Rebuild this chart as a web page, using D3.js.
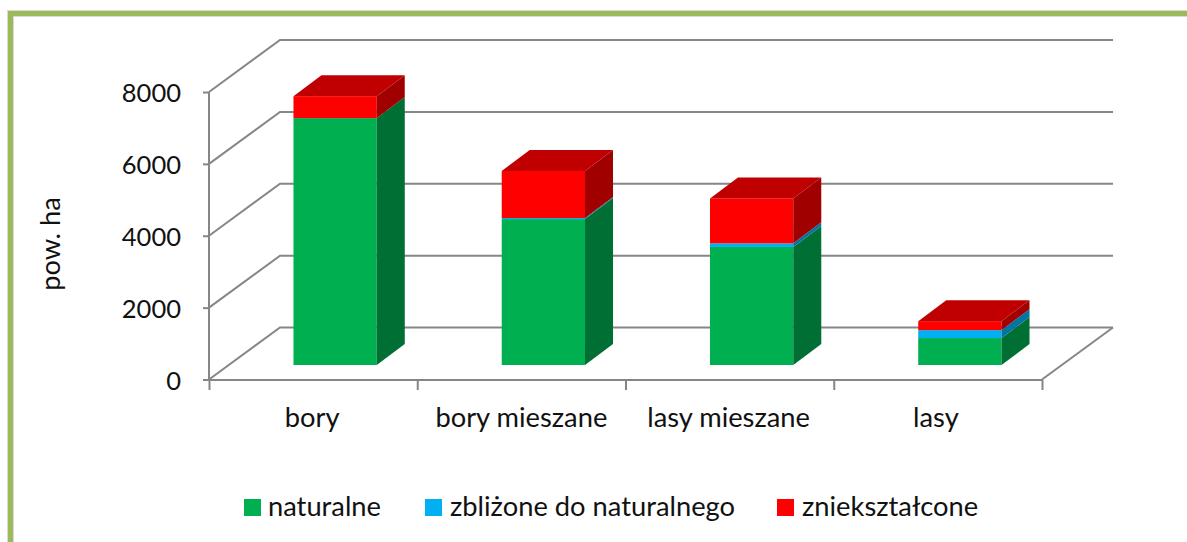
<!DOCTYPE html>
<html><head><meta charset="utf-8">
<script src="https://cdn.jsdelivr.net/npm/d3@7/dist/d3.min.js"></script>
<style>html,body{margin:0;padding:0;background:#fff;overflow:hidden}svg{display:block}text{font-family:Lato,"Open Sans",sans-serif;fill:#111}</style>
</head><body><svg id="c" width="1187" height="542"></svg>
<script>
const categories = ["bory","bory mieszane","lasy mieszane","lasy"];
const seriesNames = ["naturalne","zbliżone do naturalnego","zniekształcone"];
const naturalne = [6870,4060,3285,750];
const zblizone = [0,30,100,220];
const znieksztalcone = [610,1310,1250,250];
const yTicks = [0,2000,4000,6000,8000];
const frontColors = ["#00B050","#00B0F0","#FF0000"];
const sideColors = ["#006F34","#0075A3","#A00000"];
const topColor = "#C00000";
const seriesValues = [naturalne,zblizone,znieksztalcone];

const svg = d3.select("#c");
const y = d3.scaleLinear().domain([0,8000]).range([379.5,92]);
const x = d3.scaleBand().domain(categories).range([209,1042]).paddingInner(0.6).paddingOuter(0.3);
const step = x.step();
const wall = {dx:71, dy:-52}, inset = {dx:22, dy:-14.5}, depth = {dx:28, dy:-21};
const grid = "#868686";

// frame
svg.append("path").attr("d","M10.5,542V13.5H1187").attr("fill","none").attr("stroke","#D9D9D9").attr("stroke-width",7);
svg.append("path").attr("d","M10.5,542V13.5H1187").attr("fill","none").attr("stroke","#9BBB59").attr("stroke-width",5);

// back wall & side wall gridlines
const g = svg.append("g").attr("fill","none").attr("stroke",grid).attr("stroke-width",2);
yTicks.forEach(t=>{
  g.append("path").attr("d",d3.line()([[x.range()[0],y(t)],[x.range()[0]+wall.dx,y(t)+wall.dy],[x.range()[1]+wall.dx,y(t)+wall.dy]]));
});
g.append("path").attr("d",d3.line()([[x.range()[1],y(0)],[x.range()[1]+wall.dx,y(0)+wall.dy]]));

// axes
const yAxis = d3.axisLeft(y).tickValues(yTicks).tickSize(6).tickPadding(22).tickFormat(d3.format("d"));
const ya = svg.append("g").attr("transform","translate(209,0)").call(yAxis);
const xTickPos = d3.range(categories.length+1).map(i=>x.range()[0]+i*step);
const xs = d3.scaleOrdinal().domain(d3.range(xTickPos.length)).range(xTickPos);
const xa = svg.append("g").attr("transform","translate(0,380)").call(d3.axisBottom(xs).tickSize(10).tickFormat(""));
[ya,xa].forEach(a=>{a.selectAll("path.domain").attr("stroke",grid).attr("stroke-width",2).attr("d",null);a.selectAll("line").attr("stroke",grid).attr("stroke-width",2);});
svg.append("path").attr("d",d3.line()([[209,92],[209,380],[1042,380]])).attr("fill","none").attr("stroke",grid).attr("stroke-width",2);
ya.selectAll("text").attr("font-size",25.5).attr("dy","0.38em").style("font-family","Lato");

// category labels
const catOffset = [-1,0,-1,-2];
svg.append("g").selectAll("text").data(categories).join("text")
  .attr("x",(d,i)=>x(d)+x.bandwidth()/2+catOffset[i]).attr("y",427).attr("text-anchor","middle").attr("font-size",27.3).text(d=>d);

// bars
const bars = svg.append("g");
categories.forEach((c,i)=>{
  let acc = 0;
  const left = x(c)+inset.dx, w = x.bandwidth();
  const base = y(0)+inset.dy;
  const sy = v => base-(y(0)-y(v));
  const layers = seriesValues.map((vals,s)=>{const a=acc; acc+=vals[i]; return {s,a,b:acc};}).filter(d=>d.b>d.a);
  layers.forEach(l=>{
    const y0=sy(l.a), y1=sy(l.b);
    bars.append("rect").attr("x",left).attr("y",y1).attr("width",w).attr("height",y0-y1).attr("fill",frontColors[l.s]);
    bars.append("path").attr("fill",sideColors[l.s]).attr("d",d3.line()([[left+w,y0],[left+w+depth.dx,y0+depth.dy],[left+w+depth.dx,y1+depth.dy],[left+w,y1]])+"Z");
  });
  const ty = sy(acc);
  bars.append("path").attr("fill",topColor).attr("d",d3.line()([[left,ty],[left+depth.dx,ty+depth.dy],[left+w+depth.dx,ty+depth.dy],[left+w,ty]])+"Z");
});

// y title
svg.append("text").attr("transform","translate(60,244) rotate(-90)").attr("text-anchor","middle").attr("font-size",27.3).text("pow. ha");

// legend
const legendSwatchX = [244,425,777], legendTextX=[268,450,802];
seriesNames.forEach((n,i)=>{
  svg.append("rect").attr("x",legendSwatchX[i]).attr("y",499).attr("width",17).attr("height",17).attr("fill",frontColors[i]);
  svg.append("text").attr("x",legendTextX[i]).attr("y",516).attr("font-size",27.3).text(n);
});
</script></body></html>
